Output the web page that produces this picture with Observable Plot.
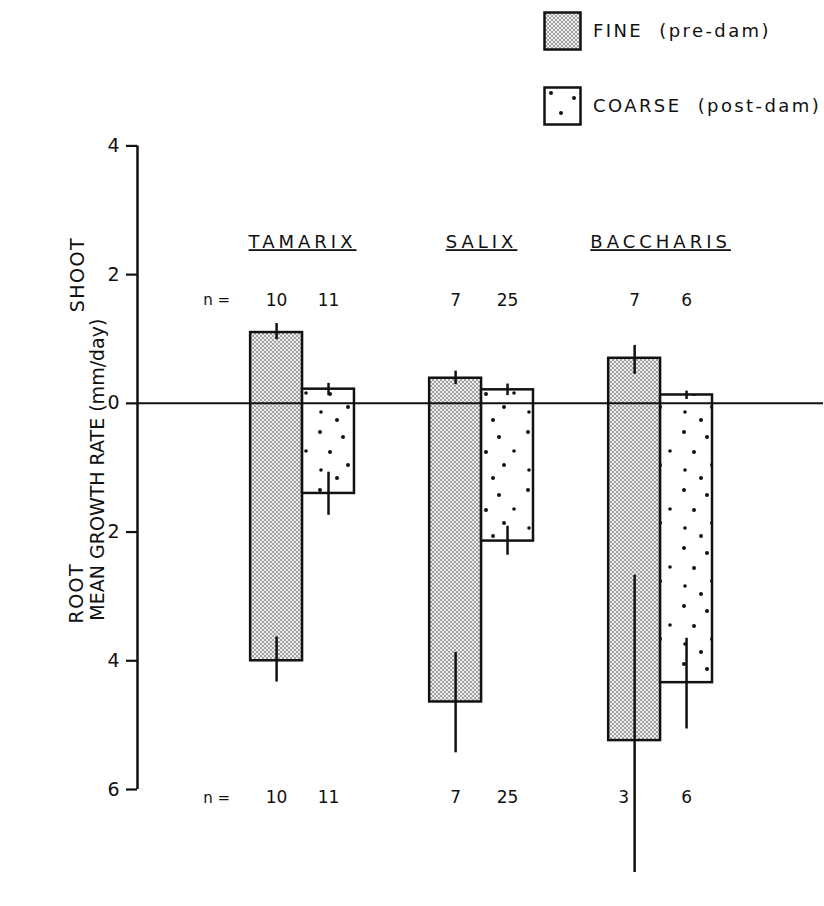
<!DOCTYPE html>
<html>
<head>
<meta charset="utf-8">
<script src="https://cdn.jsdelivr.net/npm/d3@7"></script>
<script src="https://cdn.jsdelivr.net/npm/@observablehq/plot@0.6"></script>
<style>
  body { margin: 0; background: #fff; font-family: "DejaVu Sans", sans-serif; color: #111; }
  #legend { position: relative; width: 824px; height: 135px; }
  #legend .sw { position: absolute; }
  #legend .lt { position: absolute; font-size: 18px; letter-spacing: 2.4px; white-space: pre; line-height: 1; }
  #chart svg { display: block; }
</style>
</head>
<body>
<!-- shared stipple fills -->
<svg width="0" height="0" style="position:absolute">
  <defs>
    <pattern id="fineDots" width="4" height="4" patternUnits="userSpaceOnUse">
      <rect width="4" height="4" fill="#ededed"></rect>
      <circle cx="1" cy="1" r="0.75" fill="#333"></circle>
      <circle cx="3" cy="3" r="0.75" fill="#333"></circle>
    </pattern>
    <pattern id="coarseDots" width="52" height="58" patternUnits="userSpaceOnUse">
      <rect width="52" height="58" fill="#fff"></rect>
      <circle cx="8" cy="7" r="2" fill="#111"></circle>
      <circle cx="31" cy="12" r="2" fill="#111"></circle>
      <circle cx="46" cy="26" r="1.8" fill="#111"></circle>
      <circle cx="18" cy="27" r="2" fill="#111"></circle>
      <circle cx="36" cy="40" r="2" fill="#111"></circle>
      <circle cx="9" cy="45" r="1.8" fill="#111"></circle>
      <circle cx="25" cy="53" r="2" fill="#111"></circle>
    </pattern>
  </defs>
</svg>
<div id="legend"></div>
<div id="chart"></div>
<script>
// Mean growth rates (mm/day) of seedlings on fine and coarse sediment
const species = ["TAMARIX", "SALIX", "BACCHARIS"];
const sediments = ["FINE  (pre-dam)", "COARSE  (post-dam)"];
const fills = ["url(#fineDots)", "url(#coarseDots)"];

const fineShoot = [1.10, 0.39, 0.70];
const fineShootErr = [[0.99, 1.24], [0.29, 0.50], [0.45, 0.90]];
const fineRoot = [4.00, 4.64, 5.24];
const fineRootErr = [[3.63, 4.33], [3.87, 5.43], [2.67, 7.29]];

const coarseShoot = [0.22, 0.21, 0.13];
const coarseShootErr = [[0.12, 0.31], [0.12, 0.30], [0.06, 0.19]];
const coarseRoot = [1.40, 2.14, 4.34];
const coarseRootErr = [[1.07, 1.74], [1.91, 2.36], [3.65, 5.06]];

const fineNShoot = [10, 7, 7];
const coarseNShoot = [11, 25, 6];
const fineNRoot = [10, 7, 3];
const coarseNRoot = [11, 25, 6];

const yTicks = [4, 2, 0, -2, -4, -6];

// one record per bar: shoot growth drawn upward, root growth downward
const half = 0.29;
const bars = [];
species.forEach((s, i) => {
  const c = i + 1;
  bars.push({species: s, kind: 0, x1: c - half, x2: c, shoot: fineShoot[i], root: fineRoot[i],
    shootErr: fineShootErr[i], rootErr: fineRootErr[i], nTop: fineNShoot[i], nBottom: fineNRoot[i]});
  bars.push({species: s, kind: 1, x1: c, x2: c + half, shoot: coarseShoot[i], root: coarseRoot[i],
    shootErr: coarseShootErr[i], rootErr: coarseRootErr[i], nTop: coarseNShoot[i], nBottom: coarseNRoot[i]});
});
const mid = d => (d.x1 + d.x2) / 2;
const xMin = 0.078, xMax = 3.91;
const yHead = 2.5, yNTop = 1.6, yNBottom = -6.13;
const crossed = d => d.rootErr[1] > 6; // whisker runs through the bottom count label

// legend
const legend = d3.select("#legend");
sediments.forEach((label, k) => {
  const top = k === 0 ? 11 : 86;
  const sw = legend.append("svg").attr("class", "sw")
    .style("left", "543px").style("top", top + "px")
    .attr("width", 40).attr("height", 41);
  sw.append("rect").attr("x", 1.5).attr("y", 1.5).attr("width", 36).attr("height", 37)
    .attr("fill", fills[k]).attr("stroke", "#111").attr("stroke-width", 2.5);
  legend.append("div").attr("class", "lt")
    .style("left", "593px").style("top", (top + 11) + "px")
    .text(label);
});

const side = {frameAnchor: "left", rotate: -90, textAnchor: "middle"};

const chart = Plot.plot({
  width: 824,
  height: 771,
  marginLeft: 137,
  marginRight: 1,
  marginTop: 10.4,
  marginBottom: 117,
  style: {fontFamily: "DejaVu Sans, sans-serif", fontSize: "19px", color: "#111", background: "#fff"},
  x: {domain: [xMin, xMax], axis: null},
  y: {domain: [-6, 4], ticks: yTicks, tickFormat: d => Math.abs(d), tickSize: 11, tickPadding: 7, label: null},
  marks: [
    Plot.rect(bars.filter(d => d.kind === 0), {x1: "x1", x2: "x2", y1: d => -d.root, y2: "shoot",
      fill: fills[0], stroke: "#111", strokeWidth: 2.5}),
    Plot.rect(bars.filter(d => d.kind === 1), {x1: "x1", x2: "x2", y1: d => -d.root, y2: "shoot",
      fill: fills[1], stroke: "#111", strokeWidth: 2.5}),
    Plot.ruleY([0], {stroke: "#111", strokeWidth: 2}),
    Plot.ruleX([xMin], {y1: -6, y2: 4, stroke: "#111", strokeWidth: 2.5}),
    Plot.ruleX(bars, {x: mid, y1: d => d.shootErr[0], y2: d => d.shootErr[1], stroke: "#111", strokeWidth: 2.5}),
    Plot.ruleX(bars, {x: mid, y1: d => -d.rootErr[0], y2: d => -d.rootErr[1], stroke: "#111", strokeWidth: 2.5}),
    Plot.text(species, {x: (d, i) => i + 1, y: yHead, text: d => d, fontSize: 18}),
    Plot.text(bars, {x: mid, y: yNTop, text: "nTop", fontSize: 17}),
    Plot.text(bars.filter(d => !crossed(d)), {x: mid, y: yNBottom, text: "nBottom", fontSize: 17}),
    Plot.text(bars.filter(crossed), {x: mid, y: yNBottom, text: "nBottom", fontSize: 17, dx: -11}),
    Plot.text(["n ="], {x: 1 - 0.48, y: yNTop, fontSize: 15}),
    Plot.text(["n ="], {x: 1 - 0.48, y: yNBottom, fontSize: 15}),
    Plot.text(["MEAN GROWTH RATE (mm/day)"], {...side, y: -1.03, dx: -40, fontSize: 19}),
    Plot.text(["SHOOT"], {...side, y: 2, dx: -60, fontSize: 19}),
    Plot.text(["ROOT"], {...side, y: -2.95, dx: -61, fontSize: 19})
  ]
});

const svg = d3.select(chart);
svg.selectAll("g[aria-label='y-axis tick'] path, g[aria-label='y-axis'] line").attr("stroke-width", 2.2).attr("stroke", "#111");
svg.selectAll("text").each(function() {
  const t = this.textContent;
  const el = d3.select(this);
  if (species.includes(t)) {
    el.style("letter-spacing", "4px").style("text-decoration", "underline")
      .style("text-decoration-thickness", "2px").style("text-underline-offset", "5px");
  } else if (t === "SHOOT" || t === "ROOT") {
    el.style("letter-spacing", "1.5px");
  }
});
document.getElementById("chart").append(chart);
</script>
</body>
</html>
